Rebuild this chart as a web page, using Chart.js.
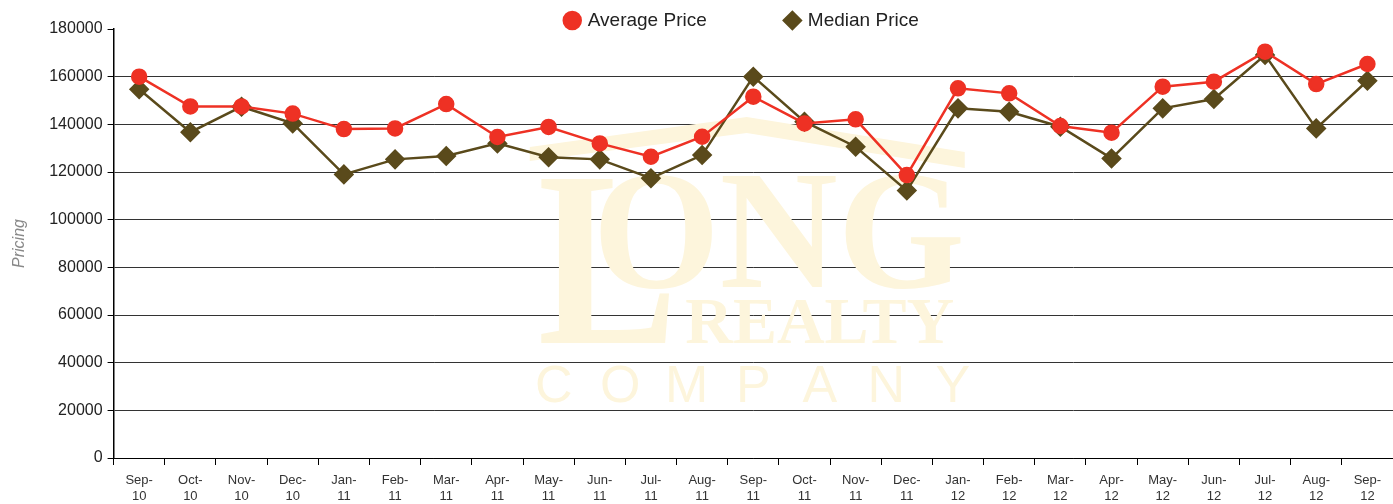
<!DOCTYPE html>
<html>
<head>
<meta charset="utf-8">
<script src="https://cdn.jsdelivr.net/npm/chart.js@4.4.1/dist/chart.umd.min.js"></script>
<style>
  html, body { margin: 0; padding: 0; background: #fff; }
  #wrap { width: 1393px; height: 504px; position: relative; }
</style>
</head>
<body>
<div id="wrap"><canvas id="priceChart"></canvas></div>
<script>
// 月ラベル（2行表示）
const months = [
  ["Sep-", "10"], ["Oct-", "10"], ["Nov-", "10"], ["Dec-", "10"],
  ["Jan-", "11"], ["Feb-", "11"], ["Mar-", "11"], ["Apr-", "11"],
  ["May-", "11"], ["Jun-", "11"], ["Jul-", "11"], ["Aug-", "11"],
  ["Sep-", "11"], ["Oct-", "11"], ["Nov-", "11"], ["Dec-", "11"],
  ["Jan-", "12"], ["Feb-", "12"], ["Mar-", "12"], ["Apr-", "12"],
  ["May-", "12"], ["Jun-", "12"], ["Jul-", "12"], ["Aug-", "12"],
  ["Sep-", "12"]
];

const averagePrice = [
  160000, 147500, 147500, 144500, 138000, 138300, 148500, 134700,
  138900, 132000, 126400, 134800, 151600, 140400, 142100, 118700,
  155100, 153000, 139300, 136500, 155800, 157900, 170500, 156900,
  165300
];

const medianPrice = [
  154700, 136700, 147400, 140400, 119000, 125300, 126700, 132000,
  126200, 125300, 117400, 127100, 160000, 141100, 130600, 112200,
  146700, 145300, 139000, 125700, 146700, 150600, 169100, 138300,
  158300
];

const yTicks = [0, 20000, 40000, 60000, 80000, 100000, 120000, 140000, 160000, 180000];

const FONT = "'Liberation Sans', Arial, sans-serif";
const WM = "#fdf5dc";

// 背景の薄いロゴ（透かし）
const watermark = {
  id: "watermark",
  beforeDatasetsDraw(chart) {
    const ctx = chart.ctx;
    const a = chart.chartArea;
    const cx = a.left + (a.right - a.left) * 0.498;
    ctx.save();
    ctx.fillStyle = WM;

    // 屋根
    ctx.beginPath();
    ctx.moveTo(cx - 221, 147);
    ctx.lineTo(cx - 4, 117);
    ctx.lineTo(cx + 214, 152);
    ctx.lineTo(cx + 214, 168);
    ctx.lineTo(cx - 4, 133);
    ctx.lineTo(cx - 221, 161);
    ctx.closePath();
    ctx.fill();

    ctx.textBaseline = "alphabetic";
    ctx.textAlign = "left";
    ctx.font = "bold 250px 'Liberation Serif', 'DejaVu Serif', serif";
    ctx.fillText("L", cx - 213, 343, 140);
    ctx.font = "bold 170px 'Liberation Serif', 'DejaVu Serif', serif";
    ctx.fillText("ONG", cx - 158, 287, 372);
    ctx.textAlign = "center";
    ctx.font = "bold 66px 'Liberation Serif', 'DejaVu Serif', serif";
    ctx.fillText("REALTY", cx + 69, 343, 282);
    ctx.font = "52px 'Liberation Sans', sans-serif";
    "COMPANY".split("").forEach((ch, i) => {
      ctx.fillText(ch, cx - 197 + i * 66.5, 402);
    });
    ctx.restore();
  }
};

// 凡例を少し右に寄せ、高さを詰める
const legendTweak = {
  id: "legendTweak",
  beforeInit(chart) {
    const lg = chart.legend;
    const fit = lg.fit;
    lg.fit = function () {
      fit.call(this);
      this.height = 29;
    };
    const draw = lg.draw;
    lg.draw = function () {
      const b = this.bottom, h = this.height;
      this.bottom = this.top + 45;
      this.height = 45;
      chart.ctx.save();
      chart.ctx.translate(46, 0);
      draw.call(this);
      chart.ctx.restore();
      this.bottom = b;
      this.height = h;
    };
  }
};

new Chart(document.getElementById("priceChart"), {
  type: "line",
  data: {
    labels: months,
    datasets: [
      {
        label: "Average Price",
        data: averagePrice,
        borderColor: "#ee3124",
        backgroundColor: "#ee3124",
        borderWidth: 2.5,
        pointStyle: "circle",
        pointRadius: 7,
        pointHoverRadius: 7,
        tension: 0
      },
      {
        label: "Median Price",
        data: medianPrice,
        borderColor: "#5a4a1b",
        backgroundColor: "#5a4a1b",
        borderWidth: 2.5,
        pointStyle: "rectRot",
        pointRadius: 8.5,
        pointHoverRadius: 8.5,
        tension: 0
      }
    ]
  },
  options: {
    responsive: true,
    maintainAspectRatio: false,
    animation: false,
    layout: { autoPadding: false, padding: 0 },
    plugins: {
      legend: {
        position: "top",
        labels: {
          usePointStyle: true,
          boxWidth: 12,
          boxHeight: 12,
          padding: 11,
          color: "#222",
          font: { family: FONT, size: 19 },
          generateLabels: (chart) => {
            const items = Chart.defaults.plugins.legend.labels.generateLabels(chart);
            items[0].text = items[0].text + "             ";
            return items;
          }
        }
      },
      tooltip: { enabled: false }
    },
    scales: {
      x: {
        offset: true,
        afterFit: (scale) => {
          scale.paddingRight = 0;
          scale.paddingLeft = 0;
          scale.height = 46;
        },
        grid: {
          offset: true,
          drawOnChartArea: false,
          color: "#000",
          tickLength: 7
        },
        border: { color: "#000", width: 1 },
        ticks: {
          color: "#333",
          maxRotation: 0,
          autoSkip: false,
          padding: 8,
          font: { family: FONT, size: 13, lineHeight: 1.18 }
        }
      },
      y: {
        min: 0,
        max: 180000,
        afterBuildTicks: (axis) => {
          axis.ticks = yTicks.map(v => ({ value: v }));
        },
        grid: {
          color: (c) => c.tick && c.tick.value === 180000 ? "rgba(0,0,0,0)" : "#333",
          tickColor: "#000",
          tickLength: 6
        },
        border: { color: "#000", width: 1.5 },
        ticks: {
          color: "#222",
          padding: 5,
          font: { family: FONT, size: 16 },
          callback: (v) => String(v)
        },
        title: {
          display: true,
          text: "Pricing",
          color: "#888",
          padding: { top: 10, bottom: 15 },
          font: { family: FONT, size: 16, style: "italic" }
        }
      }
    }
  },
  plugins: [watermark, legendTweak]
});
</script>
</body>
</html>
